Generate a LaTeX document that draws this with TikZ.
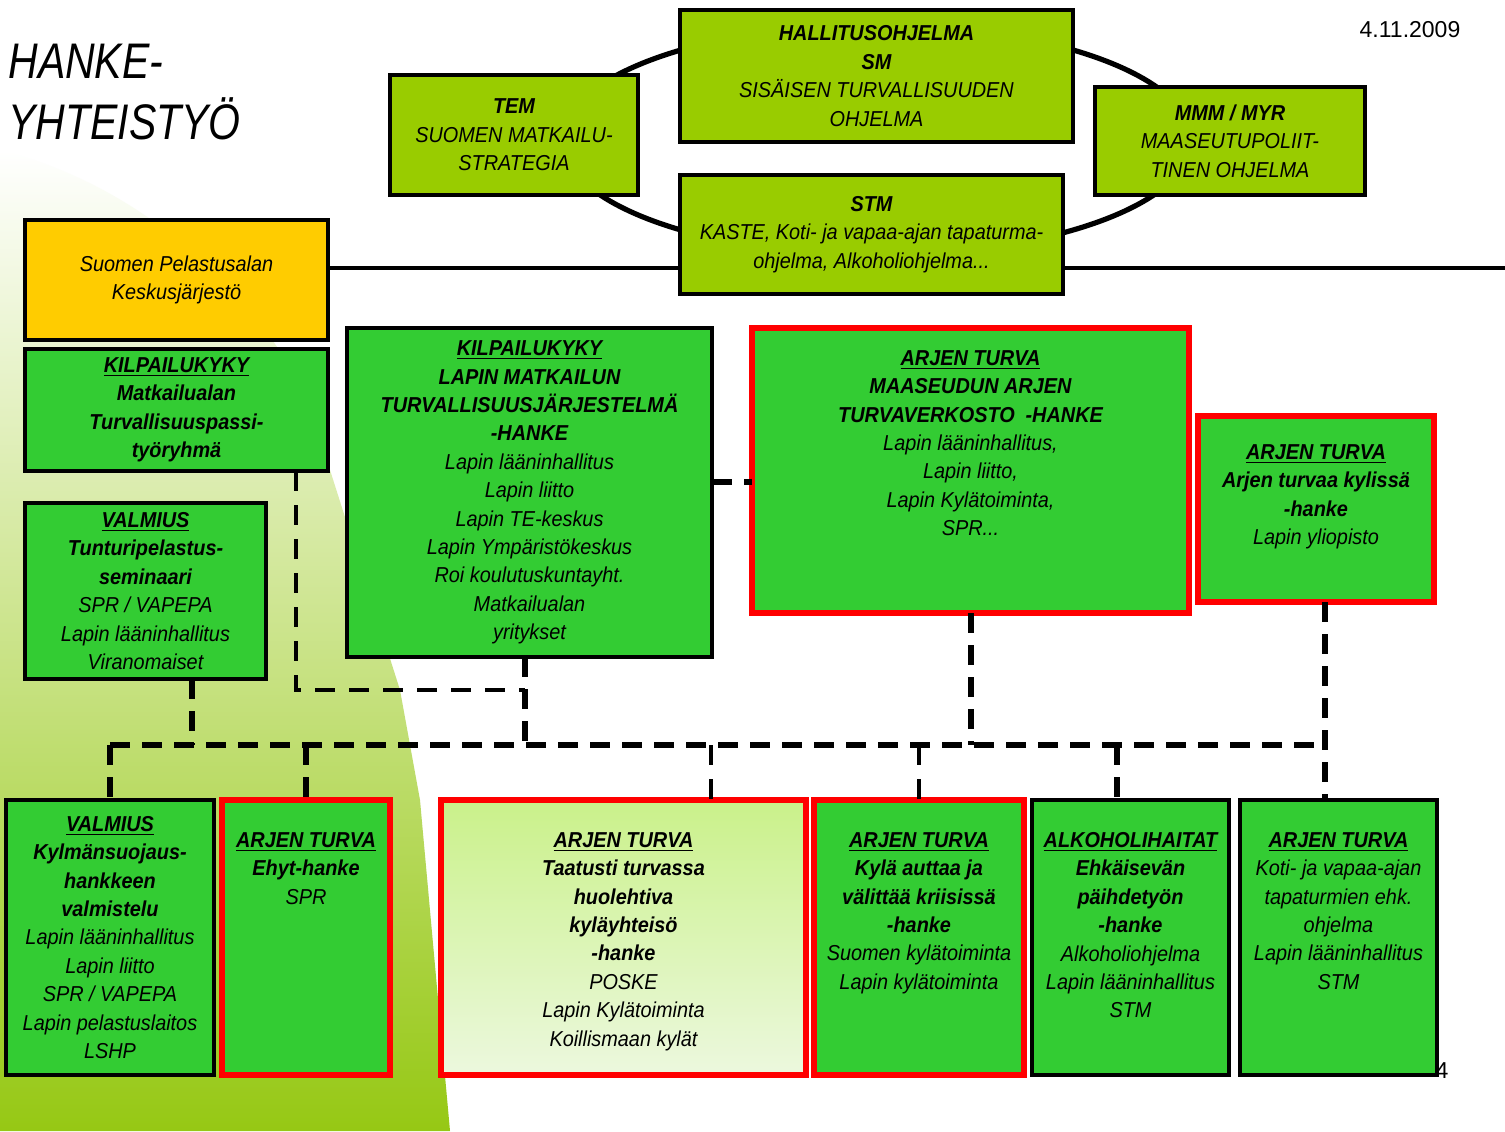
\documentclass[tikz,border=0pt]{standalone}
\usepackage{fontspec}
\setmainfont{Liberation Sans}
\newfontfamily\boxfont[FakeStretch=0.92]{Liberation Sans}
\newfontfamily\titlefont[FakeStretch=0.82]{Liberation Sans}
\usetikzlibrary{positioning}

\definecolor{hkolive}{RGB}{153,204,0}
\definecolor{hkgreen}{RGB}{51,204,51}
\definecolor{hkyellow}{RGB}{255,204,0}
\definecolor{hkred}{RGB}{255,0,0}
\definecolor{hkpaletop}{RGB}{202,241,138}
\definecolor{hkpalebot}{RGB}{236,248,222}
\definecolor{hkbgmid}{RGB}{214,232,188}
\definecolor{hkbgbot}{RGB}{150,200,20}

\begin{document}
\begin{tikzpicture}[x = 0.5pt, y = -0.5pt, % one unit = one pixel of the slide
                box/.style = {draw = black, line width = 1.6pt, fill = hkgreen,
                    inner sep = 0pt, outer sep = 0pt, anchor = north west,
                    align = center,
                    font = \boxfont\itshape\fontsize{10.8}{14.2}\selectfont},
                redbox/.style = {box, draw = hkred, line width = 2.8pt},
                txt/.style = {inner sep = 0pt, align = center,
                    font = \boxfont\itshape\fontsize{10.8}{14.2}\selectfont},
                bus/.style = {line width = 3pt, dash pattern = on 10pt off 6pt},
                thindash/.style = {line width = 1.8pt, dash pattern = on 10pt off 7pt},
                hline/.style = {line width = 1.6pt}
            ]

            \useasboundingbox[fill = white] (0,0) rectangle (1505,1131);

            % green backdrop on the left
            \shade[top color = white, middle color = hkbgmid, bottom color = hkbgbot]
                (0,150) .. controls (200,200) and (320,380) .. (330,470)
                -- (400,690) -- (420,800) -- (450,1131) -- (0,1131) -- cycle;

            % ring behind the ministries
            \draw[line width = 2.6pt] (877,140) ellipse [x radius = 157.5pt, y radius = 57.5pt];

            \node[anchor = north west, inner sep = 0pt, align = left,
                font = \titlefont\itshape\fontsize{25}{30.5}\selectfont]
                (title) at (8,44) {HANKE-\\YHTEISTYÖ};
            \node[font = \fontsize{11.5}{14}\selectfont] (date) at (1410,30) {4.11.2009};

            % ministries
            \node[box, fill = hkolive, minimum width = 196.5pt, minimum height = 66pt]
                (halli) at (680,10) {\textbf{HALLITUSOHJELMA}\\\textbf{SM}\\
                SISÄISEN TURVALLISUUDEN\\OHJELMA};
            \node[box, fill = hkolive, minimum width = 124pt, minimum height = 60pt]
                (tem) at (390,75) {\textbf{TEM}\\SUOMEN MATKAILU-\\STRATEGIA};
            \node[box, fill = hkolive, minimum width = 135pt, minimum height = 54pt]
                (mmm) at (1095,87) {\textbf{MMM / MYR}\\MAASEUTUPOLIIT-\\TINEN OHJELMA};
            \node[box, fill = hkolive, minimum width = 191.5pt, minimum height = 59.5pt]
                (stm) at (680,175) {\textbf{STM}\\KASTE, Koti- ja vapaa-ajan tapaturma-\\
                ohjelma, Alkoholiohjelma...};

            \node[box, fill = hkyellow, minimum width = 151.5pt, minimum height = 60pt]
                (suomen) at (25,220) {Suomen Pelastusalan\\Keskusjärjestö};

            % middle row
            \node[box, minimum width = 151.5pt, minimum height = 61pt]
                (kilpa) at (25,349) {\textbf{\underline{KILPAILUKYKY}}\\\textbf{Matkailualan}\\
                \textbf{Turvallisuuspassi-}\\\textbf{työryhmä}};
            \node[box, minimum width = 120.5pt, minimum height = 88pt]
                (valma) at (25,503) {\textbf{\underline{VALMIUS}}\\\textbf{Tunturipelastus-}\\
                \textbf{seminaari}\\SPR / VAPEPA\\Lapin lääninhallitus\\Viranomaiset};
            \node[box, minimum width = 182.5pt, minimum height = 164.5pt]
                (kilpb) at (347,328) {\textbf{\underline{KILPAILUKYKY}}\\\textbf{LAPIN MATKAILUN}\\
                \textbf{TURVALLISUUSJÄRJESTELMÄ}\\\textbf{-HANKE}\\Lapin lääninhallitus\\
                Lapin liitto\\Lapin TE-keskus\\Lapin Ympäristökeskus\\
                Roi koulutuskuntayht.\\Matkailualan\\yritykset};
            \node[redbox, minimum width = 218.5pt, minimum height = 142.5pt]
                (arjena) at (752,328) {};
            \node[txt, below = 11pt of arjena.north] (arjena-t)
                {\textbf{\underline{ARJEN TURVA}}\\\textbf{MAASEUDUN ARJEN}\\
                \textbf{TURVAVERKOSTO\enspace -HANKE}\\Lapin lääninhallitus,\\
                Lapin liitto,\\Lapin Kylätoiminta,\\SPR...};
            \node[redbox, minimum width = 118pt, minimum height = 93pt]
                (arjenb) at (1198,416) {};
            \node[txt, below = 14pt of arjenb.north] (arjenb-t)
                {\textbf{\underline{ARJEN TURVA}}\\\textbf{Arjen turvaa kylissä}\\
                \textbf{-hanke}\\Lapin yliopisto};

            % bottom row
            \node[box, minimum width = 104pt, minimum height = 137.5pt]
                (valmb) at (6,800) {\textbf{\underline{VALMIUS}}\\\textbf{Kylmänsuojaus-}\\
                \textbf{hankkeen}\\\textbf{valmistelu}\\Lapin lääninhallitus\\Lapin liitto\\
                SPR / VAPEPA\\Lapin pelastuslaitos\\LSHP};
            \node[redbox, minimum width = 84pt, minimum height = 137.5pt]
                (ehyt) at (222,800) {};
            \node[txt, below = 16pt of ehyt.north] (ehyt-t)
                {\textbf{\underline{ARJEN TURVA}}\\\textbf{Ehyt-hanke}\\SPR};
            \node[redbox, top color = hkpaletop, bottom color = hkpalebot,
                minimum width = 182.5pt, minimum height = 137.5pt]
                (taat) at (441,800) {};
            \node[txt, below = 16pt of taat.north] (taat-t)
                {\textbf{\underline{ARJEN TURVA}}\\\textbf{Taatusti turvassa}\\
                \textbf{huolehtiva}\\\textbf{kyläyhteisö}\\\textbf{-hanke}\\POSKE\\
                Lapin Kylätoiminta\\Koillismaan kylät};
            \node[redbox, minimum width = 105pt, minimum height = 137.5pt]
                (kyla) at (814,800) {};
            \node[txt, below = 16pt of kyla.north] (kyla-t)
                {\textbf{\underline{ARJEN TURVA}}\\\textbf{Kylä auttaa ja}\\
                \textbf{välittää kriisissä}\\\textbf{-hanke}\\Suomen kylätoiminta\\
                Lapin kylätoiminta};
            \node[box, minimum width = 98.5pt, minimum height = 137.5pt]
                (alko) at (1032,800) {};
            \node[txt, below = 16pt of alko.north] (alko-t)
                {\textbf{\underline{ALKOHOLIHAITAT}}\\\textbf{Ehkäisevän}\\
                \textbf{päihdetyön}\\\textbf{-hanke}\\Alkoholiohjelma\\
                Lapin lääninhallitus\\STM};
            \node[box, minimum width = 98.5pt, minimum height = 137.5pt]
                (koti) at (1240,800) {};
            \node[txt, below = 16pt of koti.north] (koti-t)
                {\textbf{\underline{ARJEN TURVA}}\\Koti- ja vapaa-ajan\\
                tapaturmien ehk.\\ohjelma\\Lapin lääninhallitus\\STM};

            \node[font = \fontsize{11.5}{14}\selectfont] (pnum) at (1442,1071) {4};

            % solid line through the ministries
            \coordinate (edge) at (1505,268);
            \draw[hline] (suomen.east |- edge) -- (stm.west |- edge);
            \draw[hline] (stm.east |- edge) -- (edge);

            % dashed links
            \coordinate (j1) at (110,745); \coordinate (j2) at (306,745);
            \coordinate (j3) at (711,745); \coordinate (j4) at (919,745);
            \coordinate (j5) at (1117,745); \coordinate (j6) at (1325,745);
            \coordinate (u1) at (192,745); \coordinate (u3) at (525,745);
            \coordinate (k1) at (296,690); \coordinate (k2) at (525,690);
            \coordinate (m) at (732,482);

            \draw[bus] (j1) -- (j6);
            \draw[bus] (j1) -- (valmb.north -| j1);
            \draw[bus] (j2) -- (ehyt.north -| j2);
            \draw[thindash] (j3) -- (taat.north -| j3);
            \draw[thindash] (j4) -- (kyla.north -| j4);
            \draw[bus] (j5) -- (alko.north -| j5);
            \draw[bus] (arjenb.south -| j6) -- (koti.north -| j6);
            \draw[bus] (valma.south -| u1) -- (u1);
            \draw[bus] (kilpb.south -| u3) -- (u3);
            \draw[bus] (arjena.south) -- (arjena.south |- j1);
            \draw[thindash] (kilpa.south -| k1) -- (k1) -- (k2);
            \draw[bus] (kilpb.east |- m) -- (arjena.west |- m);
\end{tikzpicture}
\end{document}
